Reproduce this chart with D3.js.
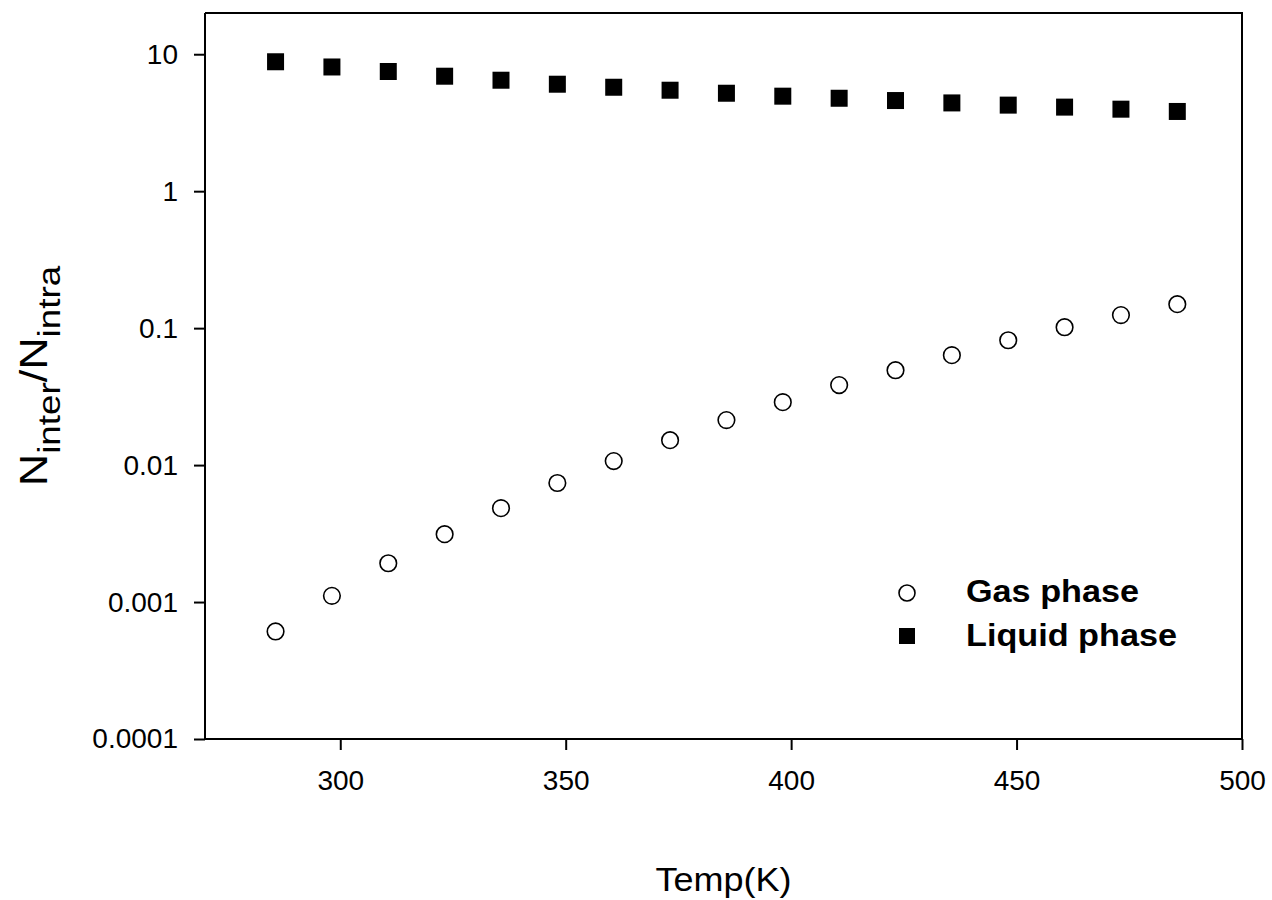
<!DOCTYPE html>
<html>
<head>
<meta charset="utf-8">
<script src="https://cdn.jsdelivr.net/npm/d3@7"></script>
<style>
  body { margin: 0; background: #fff; }
  svg text { font-family: "Liberation Sans", Arial, sans-serif; fill: #000; }
</style>
</head>
<body>
<svg id="chart" width="1272" height="900"></svg>
<script>
// ---- data ----
const temps = [285.65, 298.15, 310.65, 323.15, 335.65, 348.15, 360.65, 373.15, 385.65, 398.15, 410.65, 423.15, 435.65, 448.15, 460.65, 473.15, 485.65];
const gasPhase = [0.00061, 0.00111, 0.00192, 0.00313, 0.00485, 0.0074, 0.0107, 0.0152, 0.0213, 0.0288, 0.0384, 0.0493, 0.0635, 0.0816, 0.1016, 0.1245, 0.1496];
const liquidPhase = [8.81, 8.07, 7.48, 6.91, 6.46, 6.04, 5.74, 5.46, 5.19, 4.94, 4.77, 4.59, 4.41, 4.25, 4.11, 3.97, 3.82];
const xTicks = [300, 350, 400, 450, 500];
const yTicks = [0.0001, 0.001, 0.01, 0.1, 1, 10];
const yTickLabels = ["0.0001", "0.001", "0.01", "0.1", "1", "10"];
const seriesNames = ["Gas phase", "Liquid phase"];

// ---- layout ----
const L = 205, R = 1242, T = 13, B = 739;
const svg = d3.select("#chart");
const x = d3.scaleLinear().domain([270, 500]).range([L, R]);
const y = d3.scaleLog().domain([0.0001, 20]).range([B, T]);

// frame (top & right)
svg.append("path")
  .attr("d", `M${L},${T}H${R}V${B}`)
  .attr("fill", "none").attr("stroke", "#000").attr("stroke-width", 2);

// x axis
const gx = svg.append("g").attr("transform", `translate(0,${B})`)
  .call(d3.axisBottom(x).tickValues(xTicks).tickSize(11).tickPadding(20).tickFormat(d3.format("d")));
// y axis
const gy = svg.append("g").attr("transform", `translate(${L},0)`)
  .call(d3.axisLeft(y).tickValues(yTicks).tickSize(11).tickPadding(16)
    .tickFormat((d, i) => yTickLabels[i]));

[gx, gy].forEach(g => {
  g.select(".domain").attr("stroke-width", 2);
  g.selectAll(".tick line").attr("stroke-width", 2);
  g.selectAll(".tick text").attr("font-size", 28).attr("font-family", "Liberation Sans, Arial, sans-serif");
});
gx.select(".domain").attr("d", `M${L},0H${R}`);
gy.select(".domain").attr("d", `M0,${T}V${B}`);

// data: liquid squares
const sq = 17;
svg.append("g").selectAll("rect").data(temps).join("rect")
  .attr("x", (d) => x(d) - sq / 2)
  .attr("y", (d, i) => y(liquidPhase[i]) - sq / 2)
  .attr("width", sq).attr("height", sq)
  .attr("fill", "#000");

// data: gas circles
svg.append("g").selectAll("circle").data(temps).join("circle")
  .attr("cx", (d) => x(d))
  .attr("cy", (d, i) => y(gasPhase[i]))
  .attr("r", 8.3)
  .attr("fill", "#fff").attr("stroke", "#000").attr("stroke-width", 1.6);

// legend
const lg = svg.append("g");
lg.append("circle").attr("cx", 907).attr("cy", 593).attr("r", 8)
  .attr("fill", "#fff").attr("stroke", "#000").attr("stroke-width", 1.6);
lg.append("rect").attr("x", 907 - 8).attr("y", 636 - 8).attr("width", 16).attr("height", 16).attr("fill", "#000");
lg.append("text").attr("x", 966).attr("y", 602).attr("font-size", 31).attr("font-weight", "bold")
  .attr("textLength", 173).attr("lengthAdjust", "spacingAndGlyphs").text(seriesNames[0]);
lg.append("text").attr("x", 966).attr("y", 646).attr("font-size", 31).attr("font-weight", "bold")
  .attr("textLength", 211).attr("lengthAdjust", "spacingAndGlyphs").text(seriesNames[1]);

// axis titles
svg.append("text").attr("x", (L + R) / 2 - 68).attr("y", 891)
  .attr("font-size", 34).attr("textLength", 136).attr("lengthAdjust", "spacingAndGlyphs").text("Temp(K)");

const yt = svg.append("text")
  .attr("transform", `translate(47,376) rotate(-90) scale(1.15,1)`)
  .attr("text-anchor", "middle").attr("font-size", 39);
yt.append("tspan").text("N");
yt.append("tspan").attr("font-size", 32).attr("dy", 13).text("inter");
yt.append("tspan").attr("dy", -13).text("/N");
yt.append("tspan").attr("font-size", 32).attr("dy", 13).text("intra");
</script>
</body>
</html>
